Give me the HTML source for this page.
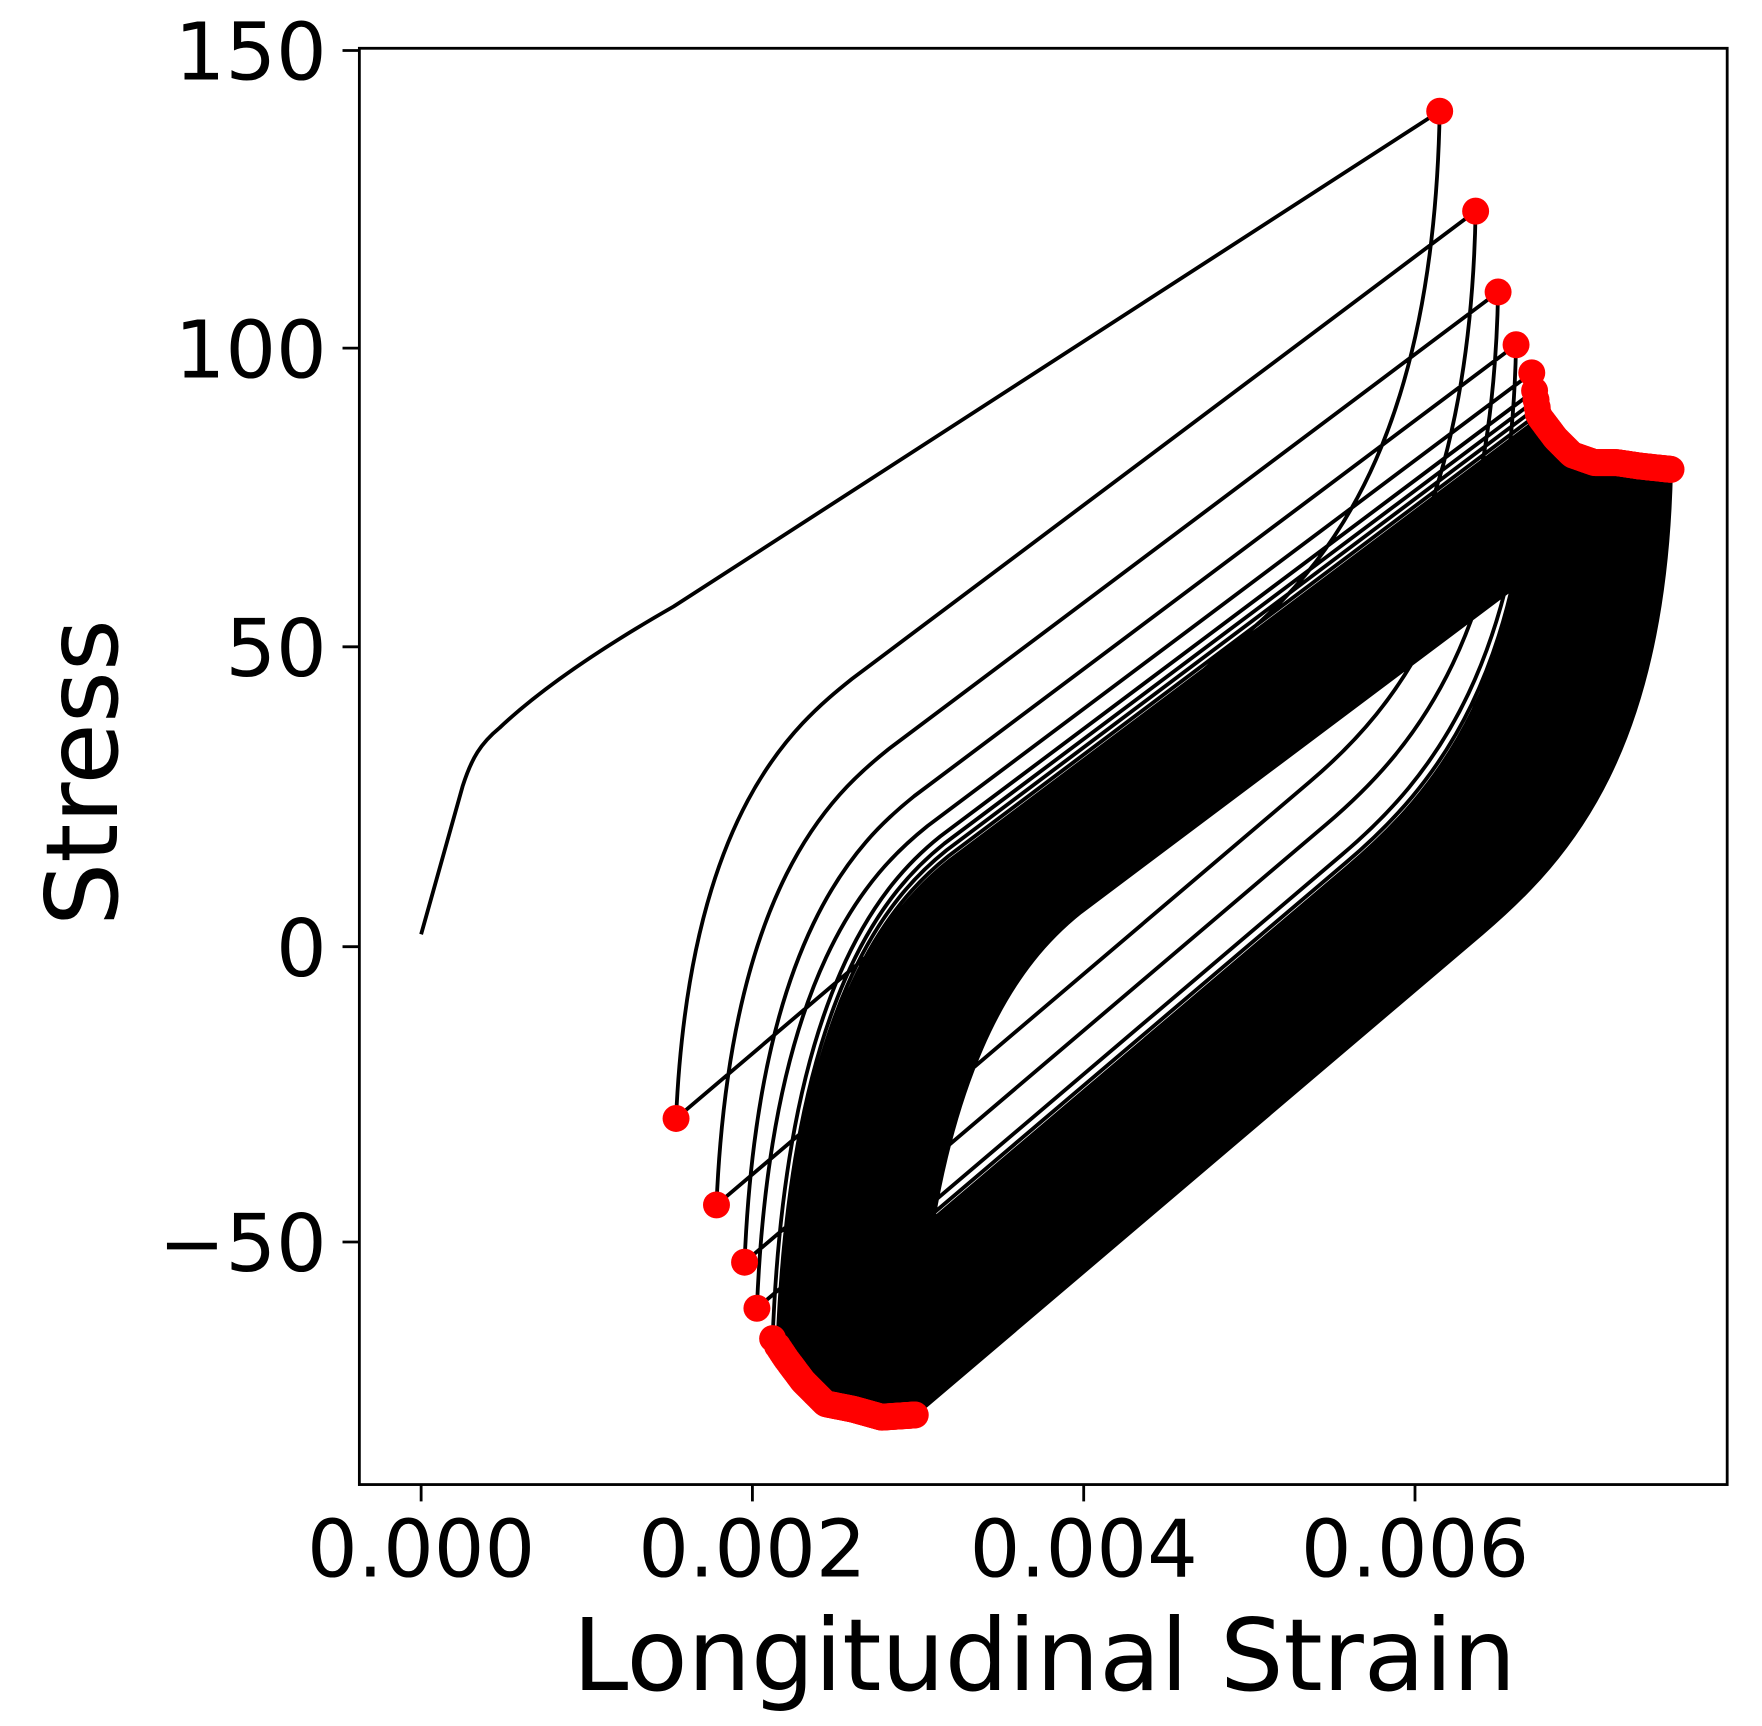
<!DOCTYPE html>
<html><head><meta charset="utf-8"><style>
html,body{margin:0;padding:0;background:#fff;}
svg{display:block;}
text{font-family:"DejaVu Sans","Liberation Sans",sans-serif;fill:#000;}
</style></head><body>
<svg id="s" width="1762" height="1726" viewBox="0 0 1569 1537" preserveAspectRatio="none" xmlns="http://www.w3.org/2000/svg">
<rect width="1569" height="1537" fill="#fff"/>
<g id="lines" fill="none" stroke="#000" stroke-width="3.4"></g>
<g id="dots" fill="#f00"></g>
<rect x="320" y="43" width="1218" height="1279" fill="none" stroke="#000" stroke-width="2.5"/>
<g stroke="#000" stroke-width="2.5">
<line x1="305" y1="45" x2="320" y2="45"/><line x1="305" y1="310" x2="320" y2="310"/>
<line x1="305" y1="576" x2="320" y2="576"/><line x1="305" y1="843" x2="320" y2="843"/>
<line x1="305" y1="1106" x2="320" y2="1106"/>
<line x1="375" y1="1322" x2="375" y2="1337"/><line x1="670" y1="1322" x2="670" y2="1337"/>
<line x1="965" y1="1322" x2="965" y2="1337"/><line x1="1260" y1="1322" x2="1260" y2="1337"/>
</g>
<g font-size="71" text-anchor="end">
<text x="291" y="71">150</text><text x="291" y="336">100</text>
<text x="291" y="602">50</text><text x="291" y="869">0</text>
<text x="291" y="1132">−50</text>
</g>
<g font-size="71" text-anchor="middle">
<text x="375" y="1404">0.000</text><text x="670" y="1404">0.002</text>
<text x="965" y="1404">0.004</text><text x="1260" y="1404">0.006</text>
</g>
<text x="930" y="1505" font-size="89" text-anchor="middle">Longitudinal Strain</text>
<text transform="translate(104,688) rotate(-90)" font-size="89" text-anchor="middle">Stress</text>
</svg>
<script>
(function(){
var L=document.getElementById('lines'),D=document.getElementById('dots');
function lerpPoly(pts,t){var n=pts.length-1,f=t*n,i=Math.min(Math.floor(f),n-1),u=f-i;
return [pts[i][0]+(pts[i+1][0]-pts[i][0])*u,pts[i][1]+(pts[i+1][1]-pts[i][1])*u];}
var peaks=[[1282,99],[1314,188],[1334,260],[1350,307],[1364,332]];
var valleys=[[602,996],[638,1073],[663,1124],[674,1165],[688,1192]];
var pc=[[1364,332],[1370,370],[1385,390],[1400,405],[1420,412],[1440,412],[1460,415],[1488,418]];
var vc=[[688,1192],[700,1210],[715,1230],[735,1250],[760,1255],[785,1262],[815,1260]];
var N=110;
for(var k=1;k<=N;k++){var t=Math.pow(k/N,0.6);peaks.push(lerpPoly(pc,t));valleys.push(lerpPoly(vc,t));}
var d='M375,832 L412,700 C420,675 428,662 445,648 C480,615 530,580 600,540 L1282,99 ';
function unload(P,V){var bx=P[0]-0.25*(P[0]-V[0]),by=V[1]-(bx-V[0])*0.85;
return 'M'+P[0]+','+P[1]+' C'+(P[0]-5)+','+(P[1]+0.6*(by-P[1]))+' '+(bx+80)+','+(by-68)+' '+bx+','+by+' L'+V[0]+','+V[1]+' ';}
function reload(V,P){var bx=V[0]+0.22*(P[0]-V[0]),by=P[1]+(P[0]-bx)*0.75;
return 'M'+V[0]+','+V[1]+' C'+(V[0]+12)+','+(V[1]-0.7*(V[1]-by))+' '+(bx-50)+','+(by+40)+' '+bx+','+by+' L'+P[0]+','+P[1]+' ';}
for(var i=0;i<peaks.length;i++){d+=unload(peaks[i],valleys[i]);if(i+1<peaks.length)d+=reload(valleys[i],peaks[i+1]);}
var p=document.createElementNS('http://www.w3.org/2000/svg','path');p.setAttribute('d',d);L.appendChild(p);
function dot(q){var c=document.createElementNS('http://www.w3.org/2000/svg','circle');c.setAttribute('cx',q[0]);c.setAttribute('cy',q[1]);c.setAttribute('r',12);D.appendChild(c);}
peaks.forEach(dot);valleys.forEach(dot);
})();
</script>
</body></html>
